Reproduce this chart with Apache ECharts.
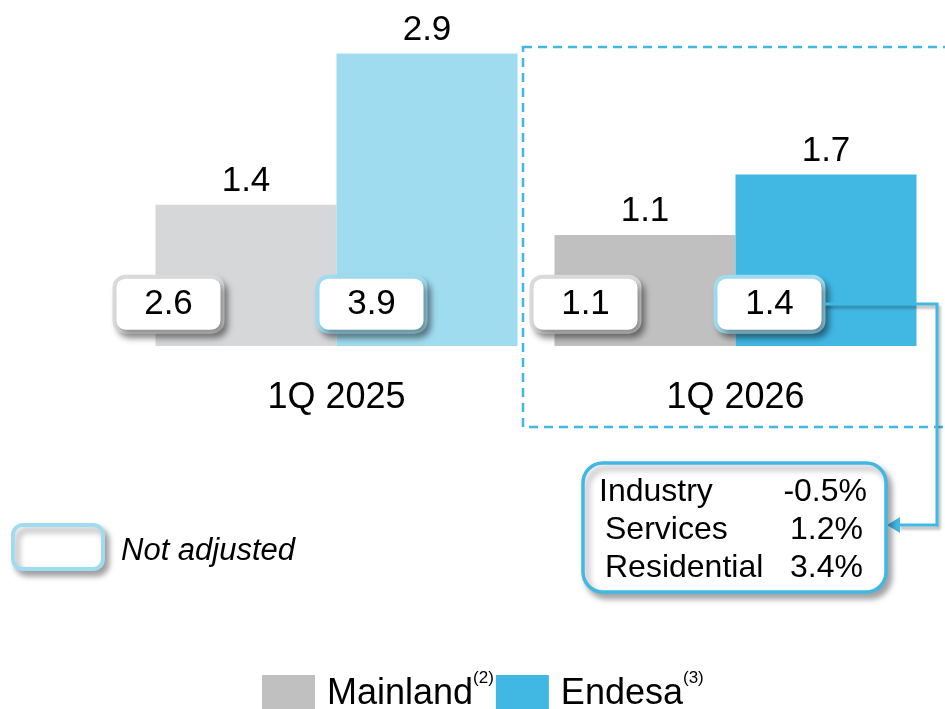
<!DOCTYPE html>
<html>
<head>
<meta charset="utf-8">
<script src="https://cdn.jsdelivr.net/npm/echarts@6/dist/echarts.min.js"></script>
<style>
    html, body { margin: 0; padding: 0; background: #fff; }
    #chart { width: 945px; height: 709px; }
</style>
</head>
<body>
<div id="chart"></div>
<script>
var categories = ['1Q 2025', '1Q 2026'];
var mainland = [1.4, 1.1];
var endesa = [2.9, 1.7];
// not adjusted values shown in the boxes
var mainlandNotAdj = [2.6, 1.1];
var endesaNotAdj = [3.9, 1.4];
// Endesa 1Q 2026 breakdown
var segments = ['Industry', 'Services', 'Residential'];
var segmentGrowth = [-0.5, 1.2, 3.4];

var FONT = 'Liberation Sans, Arial, sans-serif';
var BLUE = '#41b8e4';
var LIGHT_BLUE = '#a0dcf0';
var GRAY = '#c0c0c0';
var LIGHT_GRAY = '#d6d7d9';
var BOX_Y = 0.415; // vertical level of the value boxes, in axis units

var chart = echarts.init(document.getElementById('chart'));

function boxLabel(border, offsetX) {
    return {
        show: true,
        position: 'inside',
        offset: [offsetX, 0],
        opacity: 1,
        color: '#000',
        fontFamily: FONT,
        fontSize: 35,
        width: 104,
        height: 51,
        lineHeight: 51,
        align: 'center',
        backgroundColor: '#fff',
        borderColor: border,
        borderWidth: 4,
        borderRadius: 9,
        shadowBlur: 6,
        shadowOffsetX: 4,
        shadowOffsetY: 5,
        shadowColor: 'rgba(0,0,0,0.35)',
        formatter: function(p) {
            return p.value[2].toFixed(1);
        }
    };
}

var boxOffsets = {
    mainland: [-168, -150],
    endesa: [35, 34]
};

var boxData = [];
categories.forEach(function(c, i) {
    boxData.push({ value: [i, BOX_Y, mainlandNotAdj[i]], label: boxLabel('#dadada', boxOffsets.mainland[i]) });
    boxData.push({ value: [i, BOX_Y, endesaNotAdj[i]], label: boxLabel(LIGHT_BLUE, boxOffsets.endesa[i]) });
});

var valueLabel = {
    show: true,
    position: 'top',
    distance: 6,
    color: '#000',
    fontFamily: FONT,
    fontSize: 35,
    formatter: function(p) { return p.value.toFixed(1); }
};

// breakdown box texts
var segTexts = [];
var segLeft = [599, 605, 605];
var segRight = [867, 863, 863];
segments.forEach(function(s, i) {
    var y = 492 + i * 38;
    segTexts.push({
        type: 'text', z: 20,
        style: {
            x: segLeft[i], y: y, text: s, font: '32px ' + FONT, fill: '#000',
            textVerticalAlign: 'middle'
        }
    });
    segTexts.push({
        type: 'text', z: 20,
        style: {
            x: segRight[i], y: y, text: segmentGrowth[i].toFixed(1) + '%',
            font: '32px ' + FONT, fill: '#000', textAlign: 'right', textVerticalAlign: 'middle'
        }
    });
});

var option = {
    animation: false,
    grid: { left: 137, right: 10, top: 3, height: 343 },
    xAxis: {
        type: 'category',
        data: categories,
        axisLine: { show: false },
        axisTick: { show: false },
        axisLabel: { color: '#000', fontFamily: FONT, fontSize: 36, margin: 34 }
    },
    yAxis: {
        type: 'value',
        min: 0,
        max: 3.4,
        show: false
    },
    legend: {
        data: ['Mainland', 'Endesa'],
        left: 262,
        top: 670,
        padding: 0,
        icon: 'rect',
        itemWidth: 53,
        itemHeight: 38,
        itemGap: 2,
        formatter: function(name) {
            return '{n|' + name + '}{s|' + (name === 'Mainland' ? '(2)' : '(3)') + '}';
        },
        textStyle: {
            color: '#000',
            fontFamily: FONT,
            fontSize: 36,
            rich: {
                n: { fontFamily: FONT, fontSize: 36, color: '#000', padding: [0, 0, 0, 7], lineHeight: 50 },
                s: { fontFamily: FONT, fontSize: 17, color: '#000', padding: [0, 0, 31, 0] }
            }
        }
    },
    series: [
        {
            name: 'Mainland',
            type: 'bar',
            barWidth: 181,
            barGap: '0%',
            itemStyle: { color: GRAY },
            label: valueLabel,
            data: mainland.map(function(v, i) {
                return i === 0 ? { value: v, itemStyle: { color: LIGHT_GRAY } } : v;
            })
        },
        {
            name: 'Endesa',
            type: 'bar',
            barWidth: 181,
            itemStyle: { color: BLUE },
            label: valueLabel,
            data: endesa.map(function(v, i) {
                return i === 0 ? { value: v, itemStyle: { color: LIGHT_BLUE } } : v;
            })
        },
        {
            name: 'notAdjusted',
            type: 'scatter',
            z: 5,
            symbol: 'rect',
            symbolSize: 1,
            itemStyle: { color: '#fff', opacity: 1 },
            emphasis: { disabled: true },
            data: boxData
        }
    ],
    graphic: [
        {
            type: 'rect', z: 1, silent: true,
            shape: { x: 523, y: 47, width: 440, height: 380 },
            style: { fill: 'none', stroke: BLUE, lineWidth: 2.5, lineDash: [9, 6] }
        },
        {
            type: 'polyline', z: 15,
            shape: { points: [[824, 304], [937, 304], [937, 525], [898, 525]] },
            style: {
                fill: 'none', stroke: BLUE, lineWidth: 3,
                shadowBlur: 3, shadowOffsetX: 2, shadowOffsetY: 3, shadowColor: 'rgba(0,0,0,0.3)'
            }
        },
        {
            type: 'polygon', z: 15,
            shape: { points: [[887, 525], [900, 517], [900, 533]] },
            style: { fill: BLUE }
        },
        {
            type: 'rect', z: 16,
            shape: { x: 583, y: 463, width: 303, height: 129, r: 20 },
            style: {
                fill: '#fff', stroke: BLUE, lineWidth: 3.5,
                shadowBlur: 6, shadowOffsetX: 4, shadowOffsetY: 5, shadowColor: 'rgba(0,0,0,0.35)'
            }
        },
        {
            type: 'rect', z: 16,
            shape: { x: 13, y: 525, width: 90, height: 44, r: 10 },
            style: {
                fill: '#fff', stroke: LIGHT_BLUE, lineWidth: 4,
                shadowBlur: 6, shadowOffsetX: 4, shadowOffsetY: 5, shadowColor: 'rgba(0,0,0,0.35)'
            }
        },
        {
            type: 'text', z: 16,
            style: {
                x: 121, y: 551, text: 'Not adjusted', font: 'italic 31px ' + FONT,
                fill: '#000', textVerticalAlign: 'middle'
            }
        }
    ].concat(segTexts)
};

chart.setOption(option);
</script>
</body>
</html>
